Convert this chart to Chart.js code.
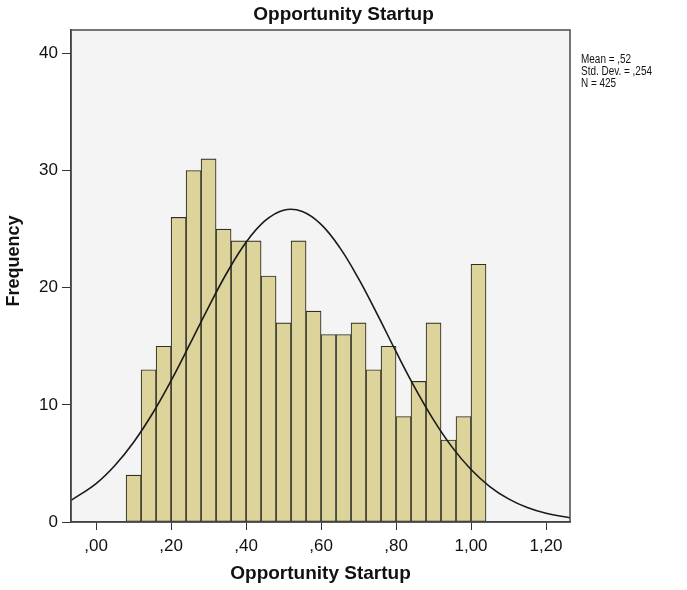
<!DOCTYPE html>
<html>
<head>
<meta charset="utf-8">
<script src="https://cdn.jsdelivr.net/npm/chart.js@4.4.1/dist/chart.umd.min.js"></script>
<style>
  html, body { margin: 0; padding: 0; background: #ffffff; }
  #wrap { width: 687px; height: 590px; position: relative; }
</style>
</head>
<body>
<div id="wrap"><canvas id="c" width="687" height="590"></canvas></div>
<script>
// ---- data ----
const chartTitle = 'Opportunity Startup';
const xAxisTitle = 'Opportunity Startup';
const yAxisTitle = 'Frequency';
const statsLines = ['Mean = ,52', 'Std. Dev. = ,254', 'N = 425'];

const binCenters = [0.10, 0.14, 0.18, 0.22, 0.26, 0.30, 0.34, 0.38, 0.42, 0.46, 0.50, 0.54,
                    0.58, 0.62, 0.66, 0.70, 0.74, 0.78, 0.82, 0.86, 0.90, 0.94, 0.98, 1.02];
const frequencies = [4, 13, 15, 26, 30, 31, 25, 24, 24, 21, 17, 24,
                     18, 16, 16, 17, 13, 15, 9, 12, 17, 7, 9, 22];

const curveX = [-0.067, 0.00, 0.05, 0.10, 0.15, 0.20, 0.25, 0.30, 0.35, 0.40, 0.45, 0.50,
                0.55, 0.60, 0.65, 0.70, 0.75, 0.80, 0.85, 0.90, 0.95, 1.00, 1.05, 1.10,
                1.15, 1.20, 1.264];
const curveY = [1.84, 3.28, 4.82, 6.81, 9.24, 12.07, 15.18, 18.35, 21.34, 23.88, 25.70, 26.62,
                26.51, 25.41, 23.42, 20.77, 17.72, 14.54, 11.48, 8.72, 6.37, 4.48, 3.03, 1.97,
                1.23, 0.74, 0.36];

const xTicks = [0, 0.2, 0.4, 0.6, 0.8, 1.0, 1.2];
const yTicks = [0, 10, 20, 30, 40];
const xMin = -0.067, xMax = 1.264;
const yMin = 0, yMax = 42;

// ---- build ----
const barData = binCenters.map((x, i) => ({ x: x, y: frequencies[i] }));
const lineData = curveX.map((x, i) => ({ x: x, y: curveY[i] }));
const FONT = '"Liberation Sans", Arial, sans-serif';

const frame = {
  id: 'frame',
  beforeDraw(chart) {
    const a = chart.chartArea, ctx = chart.ctx;
    ctx.save();
    ctx.fillStyle = '#f4f4f4';
    ctx.fillRect(a.left, a.top, a.right - a.left, a.bottom - a.top);
    ctx.restore();
  },
  afterDraw(chart) {
    const a = chart.chartArea, ctx = chart.ctx;
    ctx.save();
    ctx.strokeStyle = '#4a4a4a';
    ctx.lineWidth = 1.5;
    ctx.strokeRect(a.left, a.top, a.right - a.left, a.bottom - a.top);
    ctx.restore();
    ctx.save();
    ctx.fillStyle = '#111111';
    ctx.font = '12px ' + FONT;
    ctx.textBaseline = 'middle';
    ctx.textAlign = 'left';
    ctx.translate(a.right + 11, 0);
    ctx.scale(0.83, 1);
    statsLines.forEach((t, i) => ctx.fillText(t, 0, 60 + i * 12));
    ctx.restore();
  }
};

const fmt = v => {
  let s = Number(v).toFixed(2).replace('.', ',');
  if (s.startsWith('0,')) s = s.slice(1);
  return s;
};

new Chart(document.getElementById('c'), {
  type: 'bar',
  data: {
    datasets: [
      {
        type: 'line',
        data: lineData,
        borderColor: '#1a1a1a',
        borderWidth: 1.6,
        pointRadius: 0,
        fill: false,
        tension: 0.4,
        order: 0
      },
      {
        type: 'bar',
        data: barData,
        backgroundColor: '#ddd49c',
        borderColor: '#2e2e26',
        borderWidth: 1.1,
        borderSkipped: false,
        barPercentage: 1,
        categoryPercentage: 1,
        order: 1
      }
    ]
  },
  options: {
    responsive: false,
    animation: false,
    events: [],
    layout: { padding: { left: 0, right: 0, top: 0, bottom: 0 } },
    plugins: {
      legend: { display: false },
      tooltip: { enabled: false },
      title: {
        display: true,
        text: chartTitle,
        color: '#111111',
        font: { family: FONT, size: 19, weight: 'bold', lineHeight: 1.2 },
        padding: { top: 3, bottom: 4.2 }
      }
    },
    scales: {
      x: {
        type: 'linear',
        position: 'bottom',
        min: xMin,
        max: xMax,
        offset: false,
        afterBuildTicks: s => { s.ticks = xTicks.map(v => ({ value: v })); },
        afterFit: s => { s.height = 68; },
        grid: { display: true, drawOnChartArea: false, drawTicks: true, tickLength: 8, tickColor: '#333333', offset: false },
        border: { display: true, color: '#333333', width: 1.5 },
        ticks: {
          color: '#111111',
          padding: 6,
          maxRotation: 0,
          autoSkip: false,
          font: { family: FONT, size: 17 },
          callback: v => fmt(v)
        },
        title: {
          display: true,
          text: xAxisTitle,
          color: '#111111',
          font: { family: FONT, size: 19, weight: 'bold', lineHeight: 1.2 },
          padding: { top: 0, bottom: 4.5 }
        }
      },
      y: {
        type: 'linear',
        position: 'left',
        min: yMin,
        max: yMax,
        afterBuildTicks: s => { s.ticks = yTicks.map(v => ({ value: v })); },
        afterFit: s => { s.width = 71; },
        grid: { display: true, drawOnChartArea: false, drawTicks: true, tickLength: 9, tickColor: '#333333' },
        border: { display: true, color: '#333333', width: 1.5 },
        ticks: {
          color: '#111111',
          padding: 4,
          font: { family: FONT, size: 17 }
        },
        title: {
          display: true,
          text: '      ' + yAxisTitle,
          color: '#111111',
          font: { family: FONT, size: 18, weight: 'bold', lineHeight: 1.2 },
          padding: { top: 3, bottom: 0 }
        }
      },
      yRight: {
        type: 'linear',
        position: 'right',
        display: true,
        afterFit: s => { s.width = 117; },
        grid: { display: false, drawTicks: false },
        border: { display: false },
        ticks: { display: false }
      }
    }
  },
  plugins: [frame]
});
</script>
</body>
</html>
